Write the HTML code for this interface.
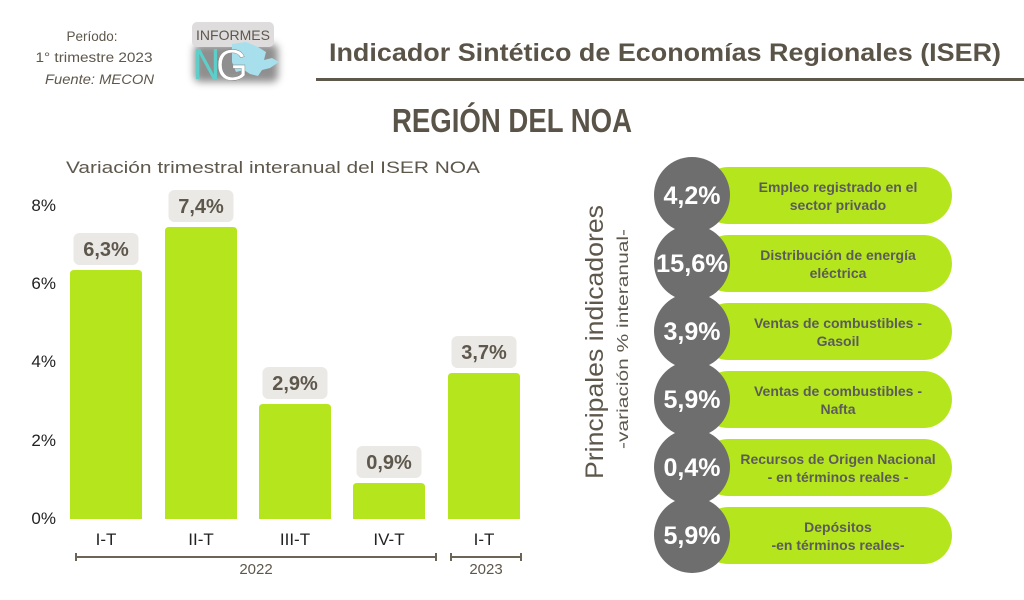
<!DOCTYPE html>
<html><head><meta charset="utf-8"><style>
html,body{margin:0;padding:0;background:#fff;}
svg{display:block;}
text{font-family:"Liberation Sans",sans-serif;}
</style></head><body>
<svg width="1024" height="600" viewBox="0 0 1024 600" xmlns="http://www.w3.org/2000/svg">
<defs>
<filter id="blur" x="-50%" y="-50%" width="200%" height="200%"><feGaussianBlur stdDeviation="4"/></filter>
</defs>
<rect width="1024" height="600" fill="#fff"/>

<!-- top-left info -->
<text x="92" y="41" font-size="13.5" fill="#5e574c" text-anchor="middle">Período:</text>
<text x="94" y="62" font-size="13.5" fill="#5e574c" text-anchor="middle" textLength="117" lengthAdjust="spacingAndGlyphs">1° trimestre 2023</text>
<text x="154" y="84" font-size="13.5" fill="#5e574c" text-anchor="end" font-style="italic" textLength="109" lengthAdjust="spacingAndGlyphs">Fuente: MECON</text>

<!-- logo -->
<rect x="194" y="44" width="84" height="38" rx="6" fill="#444" opacity="0.6" filter="url(#blur)"/>
<rect x="192" y="22" width="82" height="25" rx="5" fill="#dedcdc"/>
<text x="233" y="40" font-size="14" fill="#5e574c" text-anchor="middle" textLength="74" lengthAdjust="spacingAndGlyphs">INFORMES</text>
<polygon points="232,44 246,42 258,47 266,52 264,60 272,58 279,62 270,68 262,70 258,76 250,74 244,70 236,72 232,62" fill="#a7dfec"/>
<text x="193" y="79" font-size="44" fill="#5ccfca" textLength="27" lengthAdjust="spacingAndGlyphs">N</text>
<text x="216" y="80" font-size="44" fill="#ffffff" textLength="32" lengthAdjust="spacingAndGlyphs" stroke="#7a7a7a" stroke-width="0.4">G</text>

<!-- header -->
<text x="329" y="61" font-size="25" font-weight="bold" fill="#5a5348" textLength="672" lengthAdjust="spacingAndGlyphs">Indicador Sintético de Economías Regionales (ISER)</text>
<rect x="316" y="78" width="708" height="3" fill="#5e574c"/>
<text x="392" y="132" font-size="33" font-weight="bold" fill="#5a5348" textLength="240" lengthAdjust="spacingAndGlyphs">REGIÓN DEL NOA</text>

<!-- chart title -->
<text x="66" y="173" font-size="17" fill="#5e574c" textLength="414" lengthAdjust="spacingAndGlyphs">Variación trimestral interanual del ISER NOA</text>

<!-- y labels -->
<g font-size="17" fill="#222" text-anchor="end">
<text x="56" y="211">8%</text>
<text x="56" y="289">6%</text>
<text x="56" y="367">4%</text>
<text x="56" y="446">2%</text>
<text x="56" y="524">0%</text>
</g>

<!-- bars -->
<g fill="#b5e61d">
<path d="M70,519 V274 Q70,270 74,270 H138 Q142,270 142,274 V519 Z"/>
<path d="M165,519 V231 Q165,227 169,227 H233 Q237,227 237,231 V519 Z"/>
<path d="M259,519 V408 Q259,404 263,404 H327 Q331,404 331,408 V519 Z"/>
<path d="M353,519 V487 Q353,483 357,483 H421 Q425,483 425,487 V519 Z"/>
<path d="M448,519 V377 Q448,373 452,373 H516 Q520,373 520,377 V519 Z"/>
</g>

<!-- value labels -->
<g fill="#ebe9e6">
<rect x="73.5" y="233" width="65" height="32" rx="6"/>
<rect x="168.5" y="190" width="65" height="32" rx="6"/>
<rect x="262.5" y="367" width="65" height="32" rx="6"/>
<rect x="356.5" y="446" width="65" height="32" rx="6"/>
<rect x="451.5" y="336" width="65" height="32" rx="6"/>
</g>
<g font-size="20" font-weight="bold" fill="#5e574c" text-anchor="middle">
<text x="106" y="256">6,3%</text>
<text x="201" y="213">7,4%</text>
<text x="295" y="390">2,9%</text>
<text x="389" y="469">0,9%</text>
<text x="484" y="359">3,7%</text>
</g>

<!-- x labels -->
<g font-size="17" fill="#222" text-anchor="middle">
<text x="106" y="545">I-T</text>
<text x="201" y="545">II-T</text>
<text x="295" y="545">III-T</text>
<text x="389" y="545">IV-T</text>
<text x="484" y="545">I-T</text>
</g>

<!-- brackets -->
<g stroke="#6b6457" stroke-width="2" fill="none">
<line x1="76" y1="557" x2="436" y2="557"/>
<line x1="76" y1="553" x2="76" y2="561"/>
<line x1="436" y1="553" x2="436" y2="561"/>
<line x1="451" y1="557" x2="521" y2="557"/>
<line x1="451" y1="553" x2="451" y2="561"/>
<line x1="521" y1="553" x2="521" y2="561"/>
</g>
<g font-size="15" fill="#5e574c" text-anchor="middle">
<text x="256" y="574">2022</text>
<text x="486" y="574">2023</text>
</g>

<!-- vertical titles -->
<text transform="translate(603,479) rotate(-90)" font-size="25" fill="#5e574c" textLength="274" lengthAdjust="spacingAndGlyphs">Principales indicadores</text>
<text transform="translate(628,449) rotate(-90)" font-size="16" fill="#5e574c" textLength="220" lengthAdjust="spacingAndGlyphs">-variación % interanual-</text>

<!-- pills -->
<g fill="#b5e61d">
<rect x="700" y="167" width="252" height="57" rx="28.5"/>
<rect x="700" y="235" width="252" height="57" rx="28.5"/>
<rect x="700" y="303" width="252" height="57" rx="28.5"/>
<rect x="700" y="371" width="252" height="57" rx="28.5"/>
<rect x="700" y="439" width="252" height="57" rx="28.5"/>
<rect x="700" y="507" width="252" height="57" rx="28.5"/>
</g>
<g fill="#6e6e6e">
<circle cx="692" cy="195" r="38"/>
<circle cx="692" cy="263" r="38"/>
<circle cx="692" cy="331" r="38"/>
<circle cx="692" cy="399" r="38"/>
<circle cx="692" cy="467" r="38"/>
<circle cx="692" cy="535" r="38"/>
</g>
<g font-size="25" font-weight="bold" fill="#fff" text-anchor="middle">
<text x="692" y="204">4,2%</text>
<text x="692" y="272" textLength="72" lengthAdjust="spacingAndGlyphs">15,6%</text>
<text x="692" y="340">3,9%</text>
<text x="692" y="408">5,9%</text>
<text x="692" y="476">0,4%</text>
<text x="692" y="544">5,9%</text>
</g>
<g font-size="14" font-weight="bold" fill="#5b5b5b" text-anchor="middle">
<text x="838" y="192">Empleo registrado en el</text>
<text x="838" y="210">sector privado</text>
<text x="838" y="260">Distribución de energía</text>
<text x="838" y="278">eléctrica</text>
<text x="838" y="328">Ventas de combustibles -</text>
<text x="838" y="346">Gasoil</text>
<text x="838" y="396">Ventas de combustibles -</text>
<text x="838" y="414">Nafta</text>
<text x="838" y="464">Recursos de Origen Nacional</text>
<text x="838" y="482">- en términos reales -</text>
<text x="838" y="532">Depósitos</text>
<text x="838" y="550">-en términos reales-</text>
</g>
</svg>
</body></html>
